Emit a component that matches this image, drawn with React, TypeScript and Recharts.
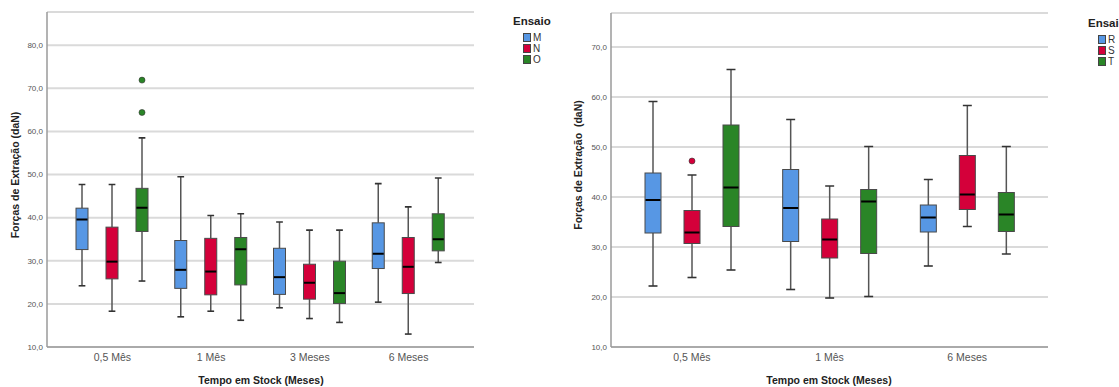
import React from "react";
import { Bar, CartesianGrid, ComposedChart, XAxis, YAxis } from "recharts";

// five-number summaries: [min, q1, median, q3, max]
const leftCategories = ["0,5 Mês", "1 Mês", "3 Meses", "6 Meses"];
const leftNames = ["M", "N", "O"];
const leftM = [
  [24.2, 32.6, 39.6, 42.2, 47.7],
  [17.0, 23.6, 27.9, 34.7, 49.5],
  [19.1, 22.2, 26.2, 32.9, 39.0],
  [20.4, 28.2, 31.6, 38.8, 47.9],
];
const leftN = [
  [18.3, 25.8, 29.8, 37.8, 47.7],
  [18.3, 22.1, 27.5, 35.2, 40.5],
  [16.6, 21.1, 24.9, 29.2, 37.1],
  [13.0, 22.4, 28.6, 35.4, 42.5],
];
const leftO = [
  [25.3, 36.8, 42.3, 46.8, 58.5],
  [16.2, 24.4, 32.7, 35.4, 40.9],
  [15.7, 20.1, 22.5, 29.9, 37.1],
  [29.6, 32.3, 35.0, 40.9, 49.2],
];
const leftOOutliers = [[71.9, 64.4], [], [], []];
const leftTicks = [10, 20, 30, 40, 50, 60, 70, 80];

const rightCategories = ["0,5 Mês", "1 Mês", "6 Meses"];
const rightNames = ["R", "S", "T"];
const rightR = [
  [22.2, 32.8, 39.4, 44.8, 59.1],
  [21.5, 31.1, 37.8, 45.5, 55.5],
  [26.2, 33.0, 35.9, 38.4, 43.5],
];
const rightS = [
  [23.9, 30.7, 32.9, 37.3, 44.4],
  [19.8, 27.8, 31.5, 35.6, 42.2],
  [34.1, 37.5, 40.5, 48.3, 58.3],
];
const rightT = [
  [25.4, 34.1, 41.9, 54.4, 65.5],
  [20.1, 28.7, 39.1, 41.5, 50.1],
  [28.6, 33.1, 36.5, 40.9, 50.1],
];
const rightSOutliers = [[47.2], [], []];
const rightTicks = [10, 20, 30, 40, 50, 60, 70];

const COLORS = ["#5797e4", "#d4003a", "#2a8527"];
const FONT = "'Liberation Sans', Arial, sans-serif";

type Row = { cat: string; [k: string]: any };

function buildRows(cats: string[], names: string[], boxes: number[][][], outliers: number[][][]): Row[] {
  return cats.map((cat, i) => {
    const row: Row = { cat };
    names.forEach((n, j) => {
      row[n] = { box: boxes[j][i], out: outliers[j][i] };
    });
    return row;
  });
}

const leftRows = buildRows(leftCategories, leftNames, [leftM, leftN, leftO], [[[], [], [], []], [[], [], [], []], leftOOutliers]);
const rightRows = buildRows(rightCategories, rightNames, [rightR, rightS, rightT], [[[], [], []], rightSOutliers, [[], [], []]]);

function makeBoxShape(key: string, color: string) {
  return (props: any) => {
    const { x, y, width, height, payload } = props;
    const s = payload[key];
    const [lo, q1, med, q3, hi] = s.box;
    const top = Math.min(y, y + height);
    const h = Math.abs(height);
    const k = h / (hi - lo);
    const py = (v: number) => top + (hi - v) * k;
    const cx = x + width / 2;
    const cap = width * 0.28;
    return (
      <g>
        <line x1={cx} x2={cx} y1={py(hi)} y2={py(q3)} stroke="#555" strokeWidth={1.5} />
        <line x1={cx} x2={cx} y1={py(q1)} y2={py(lo)} stroke="#555" strokeWidth={1.5} />
        <line x1={cx - cap} x2={cx + cap} y1={py(hi)} y2={py(hi)} stroke="#333" strokeWidth={1.6} />
        <line x1={cx - cap} x2={cx + cap} y1={py(lo)} y2={py(lo)} stroke="#333" strokeWidth={1.6} />
        <rect x={x} y={py(q3)} width={width} height={py(q1) - py(q3)} fill={color} stroke="#4a4a4a" strokeWidth={1} />
        <line x1={x + 0.5} x2={x + width - 0.5} y1={py(med)} y2={py(med)} stroke="#000" strokeWidth={2} />
        {s.out.map((v: number, i: number) => (
          <circle key={i} cx={cx} cy={py(v)} r={3} fill={color} stroke="#333" strokeWidth={0.6} />
        ))}
      </g>
    );
  };
}

type PanelProps = {
  rows: Row[];
  names: string[];
  ticks: number[];
  domain: [number, number];
  width: number;
  marginTop: number;
  marginRight: number;
  yWidth: number;
  pad: number;
  barSize: number;
  barGap: number;
};

function BoxPanel({ rows, names, ticks, domain, width, marginTop, marginRight, yWidth, pad, barSize, barGap }: PanelProps) {
  return (
    <ComposedChart
      width={width}
      height={387}
      data={rows}
      margin={{ top: marginTop, right: marginRight, bottom: 0, left: 0 }}
      barGap={barGap}
      barSize={barSize}
    >
      <CartesianGrid vertical={false} stroke="#dadada" strokeWidth={2} />
      <XAxis
        dataKey="cat"
        height={40}
        padding={{ left: pad, right: pad }}
        tickLine={false}
        tickSize={0}
        tickMargin={7}
        axisLine={{ stroke: "#9a9a9a", strokeWidth: 1.5 }}
        tick={{ fill: "#555", fontSize: 10.5, fontFamily: FONT }}
      />
      <YAxis
        type="number"
        domain={domain}
        ticks={ticks}
        width={yWidth}
        allowDataOverflow
        tickLine={false}
        tickSize={0}
        tickMargin={4}
        axisLine={{ stroke: "#9a9a9a", strokeWidth: 1.5 }}
        tick={{ fill: "#555", fontSize: 8, fontFamily: FONT }}
        tickFormatter={(v: number) => v.toFixed(1).replace(".", ",")}
      />
      {names.map((n, j) => (
        <Bar
          key={n}
          name={n}
          dataKey={(d: Row) => [d[n].box[0], d[n].box[4]]}
          fill={COLORS[j]}
          shape={makeBoxShape(n, COLORS[j])}
          isAnimationActive={false}
        />
      ))}
    </ComposedChart>
  );
}

function LegendBlock({ names, left, top }: { names: string[]; left: number; top: number }) {
  return (
    <div style={{ position: "absolute", left, top, fontFamily: FONT, whiteSpace: "nowrap" }}>
      <div style={{ fontWeight: "bold", fontSize: 11.5, color: "#222", lineHeight: "14px" }}>Ensaio</div>
      <div style={{ marginTop: 4 }}>
        {names.map((n, j) => (
          <div key={n} style={{ display: "flex", alignItems: "center", height: 11, marginLeft: 10, fontSize: 10, color: "#333" }}>
            <span style={{ display: "inline-block", width: 6, height: 7, background: COLORS[j], border: "1px solid #444", marginRight: 2 }} />
            {n}
          </div>
        ))}
      </div>
    </div>
  );
}

export default function App() {
  const yTitle: React.CSSProperties = {
    position: "absolute",
    fontFamily: FONT,
    fontWeight: "bold",
    fontSize: 10.5,
    color: "#222",
    whiteSpace: "pre",
    transform: "translate(-50%, -50%) rotate(-90deg)",
  };
  const xTitle: React.CSSProperties = {
    position: "absolute",
    fontFamily: FONT,
    fontWeight: "bold",
    fontSize: 10.5,
    color: "#222",
    whiteSpace: "pre",
    transform: "translate(-50%, -50%)",
  };
  return (
    <div style={{ position: "absolute", left: 0, top: 0, width: 1119, height: 387, overflow: "hidden", background: "#fff" }}>
      <div style={{ position: "absolute", left: 0, top: 0 }}>
        <BoxPanel
          rows={leftRows}
          names={leftNames}
          ticks={leftTicks}
          domain={[10, 87.7]}
          width={560}
          marginTop={12}
          marginRight={86}
          yWidth={47}
          pad={16}
          barSize={12}
          barGap={18}
        />
      </div>
      <div style={{ position: "absolute", left: 560, top: 0 }}>
        <BoxPanel
          rows={rightRows}
          names={rightNames}
          ticks={rightTicks}
          domain={[10, 76.8]}
          width={559}
          marginTop={13}
          marginRight={71}
          yWidth={51}
          pad={12}
          barSize={16}
          barGap={23}
        />
      </div>
      <LegendBlock names={leftNames} left={513} top={14} />
      <LegendBlock names={rightNames} left={1088} top={16} />
      <div style={{ ...yTitle, left: 15, top: 175 }}>Forças de Extração (daN)</div>
      <div style={{ ...yTitle, left: 578, top: 165 }}>Forças de Extração  (daN)</div>
      <div style={{ ...xTitle, left: 261, top: 380 }}>Tempo em Stock (Meses)</div>
      <div style={{ ...xTitle, left: 829, top: 380 }}>Tempo em Stock (Meses)</div>
    </div>
  );
}
